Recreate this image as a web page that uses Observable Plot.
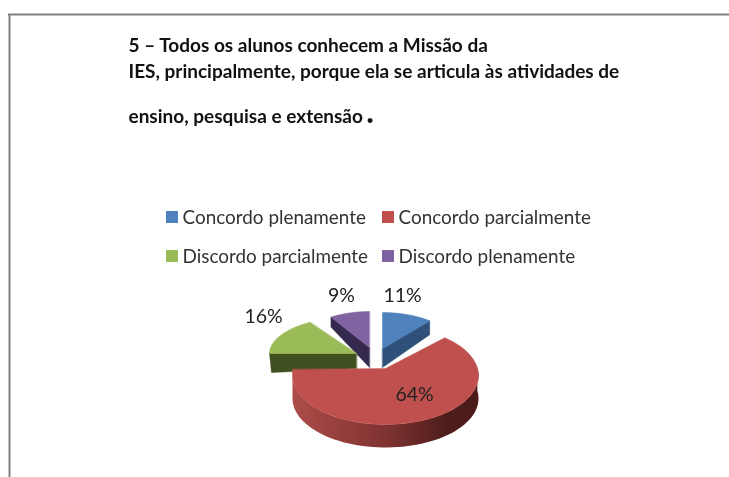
<!DOCTYPE html>
<html lang="pt">
<head>
<meta charset="utf-8">
<script src="https://cdn.jsdelivr.net/npm/d3@7"></script>
<script src="https://cdn.jsdelivr.net/npm/@observablehq/plot@0.6"></script>
<style>html,body{margin:0;padding:0;background:#fff}svg{display:block}</style>
</head>
<body>
<div id="chart"></div>
<script>
// Data
const categories = ["Concordo plenamente", "Concordo parcialmente", "Discordo parcialmente", "Discordo plenamente"];
const shares = [11, 64, 16, 9];
const titleLines = [
  "5 – Todos os alunos conhecem a Missão da",
  "IES, principalmente, porque ela se articula às atividades de",
  "ensino, pesquisa e extensão"
];
const titleStop = ".";

// Styling and layout of the drawing (page-pixel units on the x/y scales)
const faceColors = ["#4f81bd", "#c0504d", "#9bbb59", "#8064a2"];
const sideColors = ["#2f5179", "#7f3331", "#3f4f20", "#352a4e"];
const centerX = [382, 385, 356, 369];
const centerY = [348, 375, 353, 347];
const apexY = [348, 368, 353, 347];
const radiusX = [74, 93, 87, 72];
const radiusY = [36, 49, 37, 36];
const edgeDepth = [14, 23, 19, 10];
const apexDepth = [19, 0, 15, 20];
const edgeInset = [0, 0, 2, 0];
const titleX = [128, 128, 128];
const titleY = [51, 77, 122];
const legendX = [166, 382, 166, 382];
const legendY = [223, 223, 262, 262];
const labelX = [402, 414, 263, 341];
const labelY = [295, 394, 316, 295];

const stops = d3.cumsum(shares).map(v => v / d3.sum(shares) * 2 * Math.PI);
const startAngle = i => (i === 0 ? 0 : stops[i - 1]);
const pt = (i, t, dz = 0) => ({
  x: centerX[i] + radiusX[i] * Math.sin(t),
  y: centerY[i] - radiusY[i] * Math.cos(t) + dz
});
const arc = (i, a, b, dz = 0, n = 60) =>
  d3.range(n + 1).map(k => pt(i, a + (b - a) * k / n, dz));

const back = [];
const addPoly = (list, part, color, points) => points.forEach(p => list.push({...p, part, color}));

for (const i of [3, 0, 2]) {
  const a = startAngle(i), b = stops[i];
  const apex = {x: centerX[i], y: apexY[i]};
  const apexLow = {x: centerX[i], y: apexY[i] + apexDepth[i]};
  const edge = i === 0 ? pt(i, b) : pt(i, a);
  addPoly(back, `cut${i}`, sideColors[i],
    [apex, edge, {x: edge.x + edgeInset[i], y: edge.y + edgeDepth[i]}, apexLow]);
  addPoly(back, `face${i}`, faceColors[i], [apex, ...arc(i, a, b)]);
}

// The big slice: curved outer wall and top face
const big = 1;
const wall = [...arc(big, Math.PI * 0.45, Math.PI * 1.5), ...arc(big, Math.PI * 1.5, Math.PI * 0.45, edgeDepth[big])];
const bigFace = [
  {x: centerX[big], y: apexY[big]},
  ...arc(big, startAngle(big), stops[big]),
  {x: centerX[big] - radiusX[big], y: apexY[big] + 1}
];

const swatches = categories.map((name, i) => ({name, x: legendX[i], y: legendY[i], color: faceColors[i]}));
const labels = shares.map((v, i) => ({text: `${v}%`, x: labelX[i], y: labelY[i]}));
const titles = titleLines.map((text, i) => ({text, x: titleX[i], y: titleY[i]}));

const wallGradient = () => {
  const defs = d3.create("svg:defs");
  const g = defs.append("linearGradient").attr("id", "wallShade").attr("gradientUnits", "userSpaceOnUse")
    .attr("x1", centerX[big] - radiusX[big]).attr("x2", centerX[big] + radiusX[big]).attr("y1", 0).attr("y2", 0);
  [[0, "#ad4c49"], [0.5, "#7f3331"], [0.82, "#4f1e1c"], [1, "#4a1b19"]].forEach(([o, c]) =>
    g.append("stop").attr("offset", o).attr("stop-color", c));
  return defs.node();
};

const plot = Plot.plot({
  width: 729,
  height: 477,
  margin: 0,
  style: {background: "#fff", overflow: "hidden", filter: "blur(0.35px)"},
  x: {domain: [0, 729], axis: null},
  y: {domain: [477, 0], axis: null},
  color: {type: "identity"},
  marks: [
    wallGradient,
    Plot.ruleY([14], {x1: 8, x2: 729, stroke: "#808080", strokeWidth: 2}),
    Plot.ruleX([9], {y1: 14, y2: 477, stroke: "#808080", strokeWidth: 2}),
    Plot.line(back, {x: "x", y: "y", z: "part", curve: "linear-closed",
      fill: d => d.color, stroke: d => d.color, strokeWidth: 0.5}),
    Plot.line(wall, {x: "x", y: "y", curve: "linear-closed", fill: "url(#wallShade)", stroke: "none"}),
    Plot.line(bigFace, {x: "x", y: "y", curve: "linear-closed", fill: faceColors[big], stroke: faceColors[big], strokeWidth: 0.5}),
    Plot.text(titles, {x: "x", y: "y", text: "text", textAnchor: "start", lineAnchor: "bottom",
      fontFamily: "Lato", fontWeight: 700, fontSize: 19, fill: "#111"}),
    Plot.text([titleStop], {x: 366, y: 122, text: d => d, textAnchor: "start", lineAnchor: "bottom",
      fontFamily: "Lato", fontWeight: 900, fontSize: 30, fill: "#111"}),
    Plot.rect(swatches, {x1: d => d.x, x2: d => d.x + 12, y1: d => d.y - 12, y2: d => d.y,
      fill: d => d.color}),
    Plot.text(swatches, {x: d => d.x + 16, y: "y", text: "name", textAnchor: "start", lineAnchor: "bottom",
      fontFamily: "Lato", fontSize: 18.9, fill: "#333"}),
    Plot.text(labels, {x: "x", y: "y", text: "text", fontFamily: "Lato", fontSize: 19.5, fill: "#222"})
  ]
});
document.getElementById("chart").append(plot);
</script>
</body>
</html>
